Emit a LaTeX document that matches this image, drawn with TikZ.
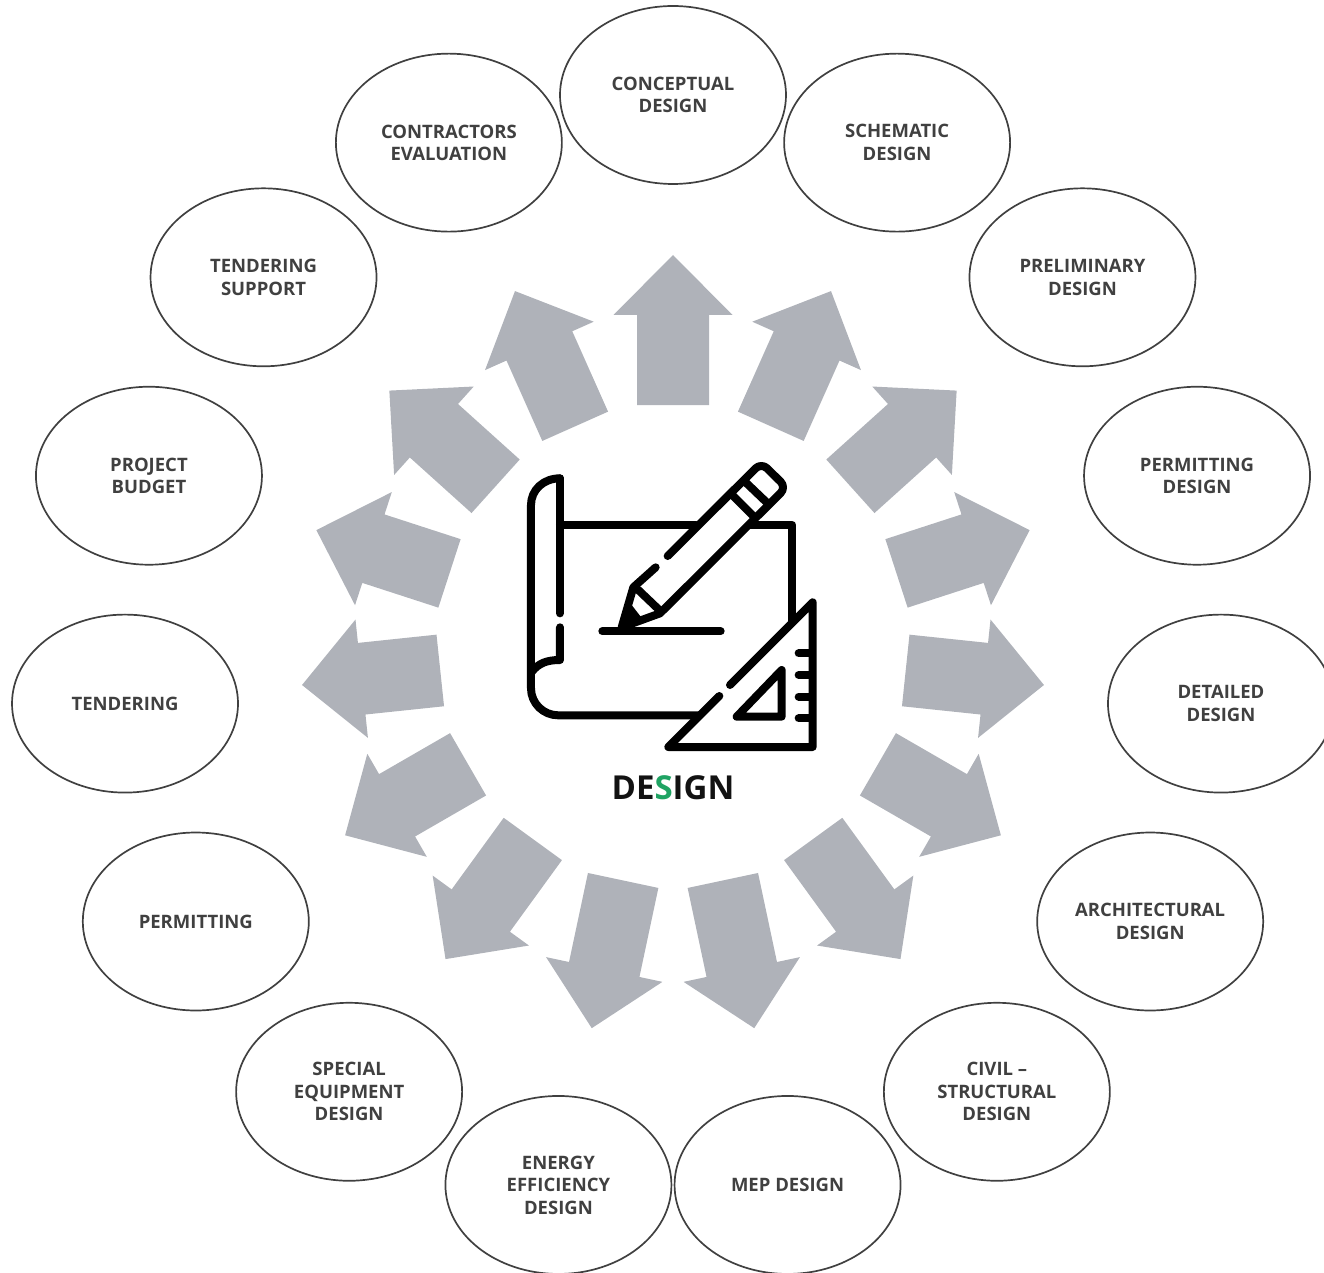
\documentclass[tikz,border=0pt]{standalone}
\usepackage{fontspec}
\setmainfont{Open Sans}
\usetikzlibrary{shapes.geometric}
\definecolor{labelcol}{HTML}{404040}
\definecolor{flowcol}{HTML}{AFB2B9}
\definecolor{accentcol}{HTML}{1FA363}
\tikzstyle{stage}=[draw=labelcol,line width=1.7,ellipse,minimum width=226,minimum height=178,inner sep=0,
  align=center,text=labelcol,font=\fontsize{18.5}{22.5}\selectfont\bfseries]
\tikzstyle{flow}=[fill=flowcol]
\tikzstyle{icon}=[line width=8,line cap=round,line join=round]
\def\Rstage{551}

\begin{document}
\begin{tikzpicture}[x=1pt,y=1pt]
  
  \clip (-673,646) rectangle (651,-626);
  
  % STAGES
  \foreach \i/\txt [evaluate={\ang=90-24*\i;}] in {
      0/{CONCEPTUAL\\DESIGN},
      1/{SCHEMATIC\\DESIGN},
      2/{PRELIMINARY\\DESIGN},
      3/{PERMITTING\\DESIGN},
      4/{DETAILED\\DESIGN},
      5/{ARCHITECTURAL\\DESIGN},
      6/{CIVIL --\\STRUCTURAL\\DESIGN},
      7/{MEP DESIGN},
      8/{ENERGY\\EFFICIENCY\\DESIGN},
      9/{SPECIAL\\EQUIPMENT\\DESIGN},
      10/{PERMITTING},
      11/{TENDERING},
      12/{PROJECT\\BUDGET},
      13/{TENDERING\\SUPPORT},
      14/{CONTRACTORS\\EVALUATION}}{
    \node[stage] (stage\i) at ({\ang}:\Rstage) {\txt};
  }
  
  % ARROWS
  \foreach \a/\r/\l in {0/391/150,24/388.5/148,48/381.7/143,72/375/140,96/373/139,120/378.6/142,144/387/148.5,168/390.7/151,
                        192/390.7/151,216/387/148.5,240/378.6/142,264/373/139,288/375/140,312/381.7/143,336/388.5/148}{
    \fill[flow,shift={({90-\a}:\r)},rotate=-\a] (0,0) -- (59.5,-60) -- (36,-60) -- (36,-\l)
      -- (-36,-\l) -- (-36,-60) -- (-59.5,-60) -- cycle;
  }
  
  % ICON
  \begin{scope}[shift={(-163,196)},x=1pt/3,y=-1pt/3,icon]
    % paper
    \draw (150,85) .. controls (100,85) and (63,120) .. (63,165) -- (63,715)
      .. controls (63,760) and (100,796) .. (145,796) -- (568,796);
    \draw (150,85) -- (150,490);
    \draw (150,532) -- (150,630) .. controls (110,630) and (85,640) .. (65,666);
    \draw (150,225) -- (558,225);
    \draw (722,225) -- (847,225) -- (847,512);
    \draw (277,544) -- (632,544);
    % pencil
    \draw (473,318) [rounded corners=8pt] -- (754,38) -- (829,112) [sharp corners] -- (450,490)
      -- (335,532) -- (370,412) -- (437,352);
    \draw (670,138) -- (735,203);
    \draw (708,98) -- (773,160);
    \draw (385,420) -- (450,482);
    \fill[line width=0pt] (325,540) -- (365,465) -- (400,510) -- cycle;
    % ruler
    \draw (628,738) -- (475,891) -- (908,891) -- (908,457) -- (660,705);
    \draw (680,800) -- (815,800) -- (815,660) -- cycle;
    \foreach \ytick in {610,675,740,805}{
      \draw (866,\ytick) -- (895,\ytick);
    }
  \end{scope}
  
  % TITLE
  \node[font=\fontsize{33}{36}\selectfont\bfseries,text=black!93] (title) at (0,-142)
    {DE{\color{accentcol}S}IGN};
  
\end{tikzpicture}
\end{document}
